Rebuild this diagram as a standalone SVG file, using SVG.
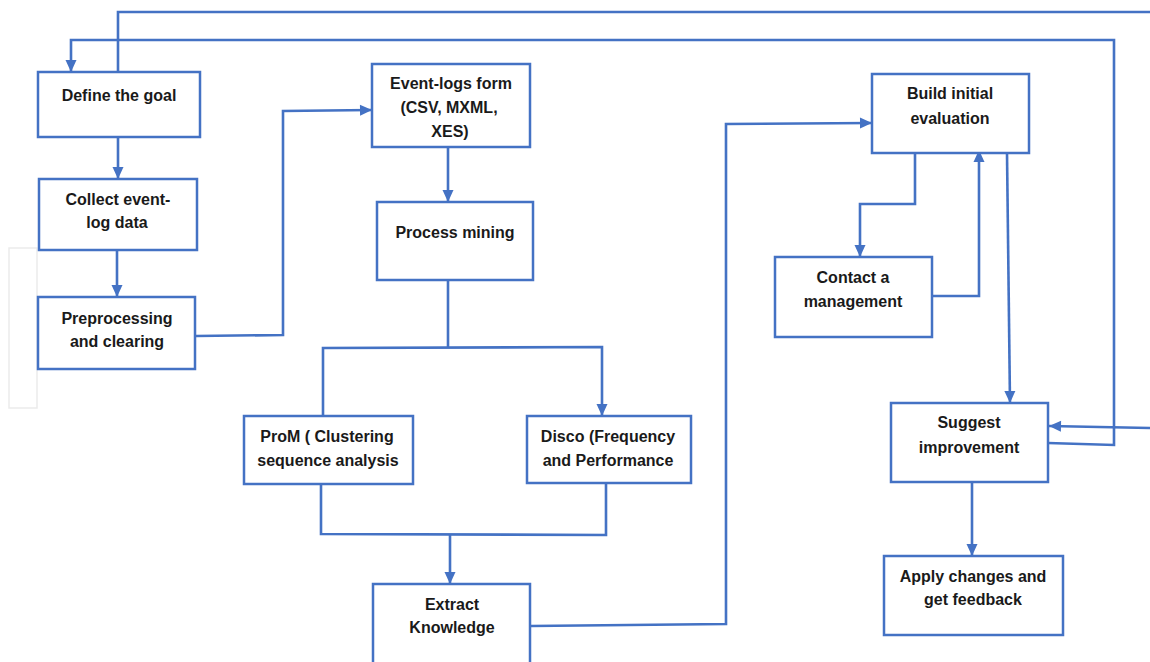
<svg xmlns="http://www.w3.org/2000/svg" width="1150" height="662" viewBox="0 0 1150 662">
<defs>
<style>
.box{fill:#fff;stroke:#4472C4;stroke-width:2.5}
.ln{fill:none;stroke:#4472C4;stroke-width:2.6;stroke-linejoin:miter}
.ar{marker-end:url(#ah)}
text{font-family:"Liberation Sans",Arial,sans-serif;font-weight:bold;font-size:16px;fill:#1a1a1a;text-anchor:middle}
</style>
<marker id="ah" markerUnits="userSpaceOnUse" markerWidth="14" markerHeight="14" viewBox="0 0 14 14" refX="13" refY="7" orient="auto">
<path d="M1,1.5 L13,7 L1,12.5 Z" fill="#4472C4"/>
</marker>
</defs>
<rect width="1150" height="662" fill="#fff"/>
<rect x="9" y="248" width="28" height="160" fill="none" stroke="#ebebeb" stroke-width="1.5"/>

<g id="connectors">
<path class="ln" d="M118,72 V12 H1150"/>
<path class="ln ar" d="M1150,428 L1049,426"/>
<path class="ln ar" d="M1048,443 L1114,445 V40 H71 V72"/>
<path class="ln ar" d="M118,137 V179"/>
<path class="ln ar" d="M117,250 V297"/>
<path class="ln ar" d="M196,336 L283,335 V111 L372,110"/>
<path class="ln ar" d="M448,147 V202"/>
<path class="ln" d="M448,280 V347"/>
<path class="ln ar" d="M323,416 V348 L602,347 V416"/>
<path class="ln" d="M321,484 V534 L606,535 V483"/>
<path class="ln ar" d="M450,534 V584"/>
<path class="ln ar" d="M531,626 L726,624 V124 L872,123"/>
<path class="ln ar" d="M915,153 V204 H860 V257"/>
<path class="ln ar" d="M932,296 H979 V150"/>
<path class="ln ar" d="M1007,153 L1010,403"/>
<path class="ln ar" d="M972,482 V556"/>
</g>

<g id="define-goal"><rect class="box" x="38" y="72" width="162" height="65"/><text x="119" y="101">Define the goal</text></g>
<g id="collect"><rect class="box" x="39" y="179" width="158" height="71"/><text x="118" y="205">Collect event-</text><text x="117" y="228">log data</text></g>
<g id="preprocessing"><rect class="box" x="38" y="297" width="157" height="72"/><text x="117" y="324">Preprocessing</text><text x="117" y="347">and clearing</text></g>
<g id="event-logs"><rect class="box" x="372" y="64" width="158" height="83"/><text x="451" y="89">Event-logs form</text><text x="449" y="113">(CSV, MXML,</text><text x="450" y="137">XES)</text></g>
<g id="process-mining"><rect class="box" x="377" y="202" width="156" height="78"/><text x="455" y="238">Process mining</text></g>
<g id="prom"><rect class="box" x="244" y="416" width="169" height="68"/><text x="327" y="442">ProM ( Clustering</text><text x="328" y="466">sequence analysis</text></g>
<g id="disco"><rect class="box" x="527" y="416" width="164" height="67"/><text x="608" y="442">Disco (Frequency</text><text x="608" y="466">and Performance</text></g>
<g id="extract"><rect class="box" x="373" y="584" width="157" height="90"/><text x="452" y="610">Extract</text><text x="452" y="633">Knowledge</text></g>
<g id="build"><rect class="box" x="872" y="74" width="157" height="79"/><text x="950" y="99">Build initial</text><text x="950" y="124">evaluation</text></g>
<g id="contact"><rect class="box" x="775" y="257" width="157" height="80"/><text x="853" y="283">Contact a</text><text x="853" y="307">management</text></g>
<g id="suggest"><rect class="box" x="891" y="403" width="157" height="79"/><text x="969" y="428">Suggest</text><text x="969" y="453">improvement</text></g>
<g id="apply"><rect class="box" x="884" y="556" width="179" height="79"/><text x="973" y="582">Apply changes and</text><text x="973" y="605">get feedback</text></g>
</svg>
